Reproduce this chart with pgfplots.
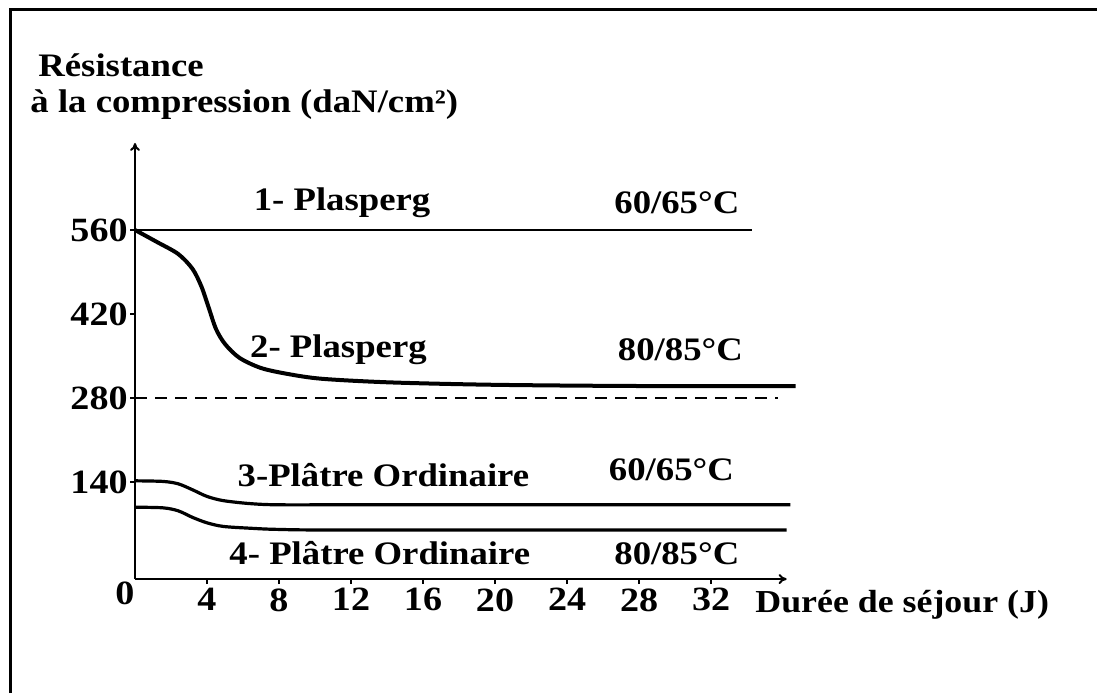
\documentclass[border=0pt]{standalone}
\usepackage{fontspec}
\setmainfont{Liberation Serif}[FakeStretch=1.12]
\usepackage{pgfplots}
\pgfplotsset{compat=1.18}
\usetikzlibrary{arrows.meta}
\newcommand{\lbl}{\bfseries\fontsize{16.4}{19}\selectfont}
\newcommand{\tlbl}{\bfseries\fontsize{17}{19}\selectfont}
\begin{document}
\begin{tikzpicture}
\begin{axis}[
  x=9pt, y=0.3pt,
  xmin=0, xmax=36.2, ymin=-21.7, ymax=705,
  axis lines=left,
  axis line style={line width=1pt, -{To[length=4pt,width=5pt]}},
  clip=false,
  xtick={4,8,...,32}, ytick={140,280,420,560},
  tick align=outside, major tick length=2.5pt,
  tick style={line width=1pt, black},
  ticklabel style={font=\tlbl},
  /pgf/number format/assume math mode=true,
  xticklabel style={yshift=-1pt, inner sep=1pt},
  yticklabel style={inner sep=1pt},
]
\addplot[line width=1pt] coordinates {(0,560) (34.3,560)};
\addplot[line width=2pt, smooth, tension=0.5] coordinates {(0,560)(1.22,540)(2.4,520)(3.2,495)(3.7,465)(4.1,430)(4.5,395)(5.0,370)(5.8,347)(7.0,330)(8.5,320)(10.4,312)(14.2,306)(20,302)(28,300)(36.7,300)};
\addplot[line width=1pt, dash pattern=on 6pt off 4pt] coordinates {(0,280) (35.7,280)};
\addplot[line width=1.6pt, smooth, tension=0.5] coordinates {(0,142)(1.55,141)(2.4,137)(3.2,127)(4.0,116)(4.9,109)(6.4,104)(8,102)(12,102)(36.4,102)};
\addplot[line width=1.6pt, smooth, tension=0.5] coordinates {(0,98)(1.55,97)(2.4,92)(3.2,81)(4.0,72)(4.9,66)(6.4,63)(8,61)(12,60)(36.2,60)};
\node[anchor=base, font=\lbl] at (axis cs:11.5,592) {1- Plasperg};
\node[anchor=base, font=\lbl] at (axis cs:30.1,588) {60/65°C};
\node[anchor=base, font=\lbl] at (axis cs:11.3,347) {2- Plasperg};
\node[anchor=base, font=\lbl] at (axis cs:30.3,342) {80/85°C};
\node[anchor=base, font=\lbl] at (axis cs:13.8,132) {3-Plâtre Ordinaire};
\node[anchor=base, font=\lbl] at (axis cs:29.8,143) {60/65°C};
\node[anchor=base, font=\lbl] at (axis cs:13.6,2) {4- Plâtre Ordinaire};
\node[anchor=base, font=\lbl] at (axis cs:30.1,2) {80/85°C};
\node[anchor=base west, font=\bfseries\fontsize{16}{19}\selectfont, inner sep=0pt] at (axis cs:34.44,-76.7) {Durée de séjour (J)};
\node[font=\tlbl] at (axis cs:-0.56,-45) {0};
\node[anchor=base west, font=\lbl, inner sep=0pt] at (axis cs:-5.39,815) {Résistance};
\node[anchor=base west, font=\lbl, inner sep=0pt] at (axis cs:-5.83,755) {à la compression (daN/cm²)};
\coordinate (BL) at (axis cs:-7.5,-211.7);
\coordinate (TR) at (axis cs:53.44,943.3);
\coordinate (FL) at (axis cs:-6.944,-211.7);
\coordinate (FT) at (axis cs:-6.944,926.7);
\coordinate (FR) at (axis cs:53.44,926.7);
\end{axis}
\draw[line width=1.5pt] (FL) -- (FT) -- (FR);
\pgfresetboundingbox
\path[use as bounding box] (BL) rectangle (TR);
\end{tikzpicture}
\end{document}
